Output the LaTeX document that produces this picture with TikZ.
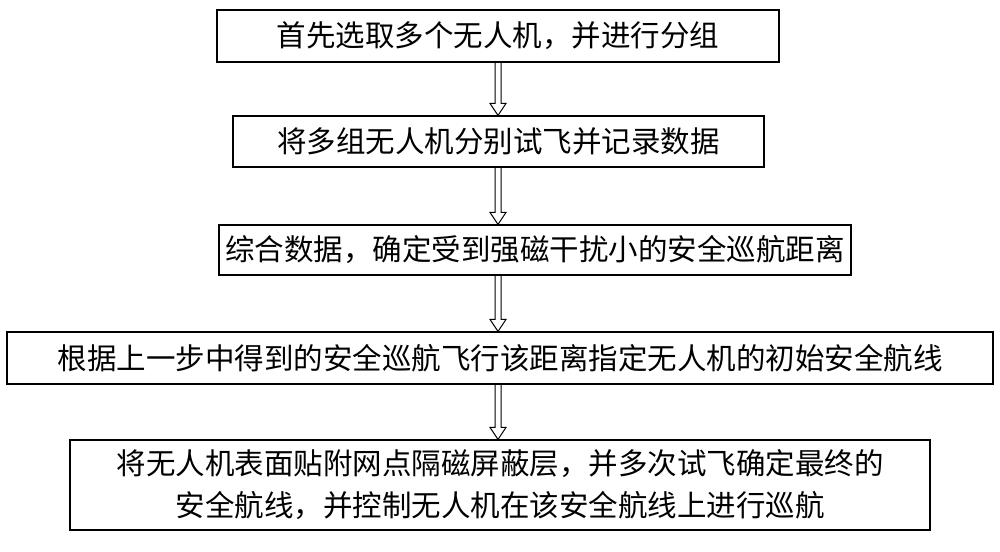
\documentclass[tikz,border=0pt]{standalone}
\usepackage{fontspec}
\usetikzlibrary{calc}
\newfontfamily\cjk{Noto Sans CJK SC}
\begin{document}
\begin{tikzpicture}[x=1pt,y=-1pt,
  boxst/.style={draw,line width=1.2pt,inner sep=0pt,font=\cjk\fontsize{29.5}{42}\selectfont,align=center},
  hollow/.style={line width=1pt}]
\useasboundingbox (0,0) rectangle (1000,551);
\node[boxst,minimum width=562,minimum height=52] (b1) at (498,36) {首先选取多个无人机，并进行分组};
\node[boxst,minimum width=531,minimum height=51] (b2) at (498.5,141.5) {将多组无人机分别试飞并记录数据};
\node[boxst,minimum width=632,minimum height=50] (b3) at (535,250) {综合数据，确定受到强磁干扰小的安全巡航距离};
\node[boxst,minimum width=986,minimum height=52] (b4) at (500,358) {根据上一步中得到的安全巡航飞行该距离指定无人机的初始安全航线};
\node[boxst,minimum width=860,minimum height=90] (b5) at (500,485) {将无人机表面贴附网点隔磁屏蔽层，并多次试飞确定最终的\\安全航线，并控制无人机在该安全航线上进行巡航};
\foreach \a/\b in {b1/b2,b2/b3,b3/b4,b4/b5}{
  \coordinate (s) at (b1.south |- \a.south);
  \coordinate (e) at (b1.south |- \b.north);
  \draw[hollow] ($(s)+(-3,0)$) -- ($(e)+(-3,-12)$) -- ($(e)+(-8,-12)$) -- (e) -- ($(e)+(8,-12)$) -- ($(e)+(3,-12)$) -- ($(s)+(3,0)$);
}
\end{tikzpicture}
\end{document}
